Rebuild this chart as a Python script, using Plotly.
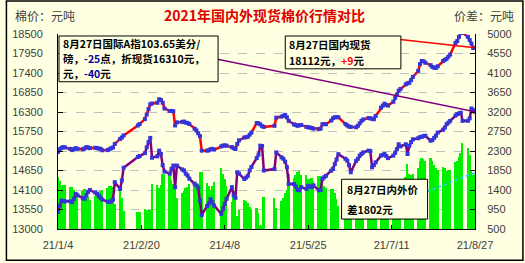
import pandas as pd
import plotly.graph_objects as go

# ---------------- data ----------------
holidays = ["2021-02-11", "2021-02-12", "2021-02-15", "2021-02-16", "2021-02-17",
            "2021-04-05", "2021-05-03", "2021-05-04", "2021-05-05", "2021-06-14"]
dates = [d for d in pd.bdate_range("2021-01-04", "2021-08-27")
         if d.strftime("%Y-%m-%d") not in holidays]

# domestic spot cotton price (yuan/t), left axis
domestic = [
    15170, 15250, 15290, 15310, 15300,
    15260, 15225, 15250, 15280, 15260,
    15250, 15270, 15310, 15300, 15280,
    15290, 15280, 15270, 15260, 15220,
    15225, 15250, 15280, 15300, 15400,
    15540, 15580, 15640,
    15920, 15960,
    16100, 16230, 16380, 16520, 16540,
    16560, 16660, 16640, 16560, 16400,
    16330, 16330, 16320, 15920, 16010,
    16020, 16030, 16000, 15990, 15960,
    15830, 15780, 15700, 15620, 15210,
    15210, 15220, 15250, 15260, 15240,
    15330, 15350, 15360, 15350,
    15310, 15280, 15255, 15400, 15500,
    15580, 15590, 15600, 15660, 15720,
    15990, 15980, 15950, 15900, 15880,
    15910, 16140,
    16170, 16190, 16220, 16150, 16050,
    15950, 15935, 15910, 15925, 15935,
    15880, 15870, 15860, 15850, 15830,
    15820, 15830, 15955, 15960, 15955,
    16060, 16125, 16150, 16160, 16150,
    15960, 15920, 15890, 15880,
    15870, 15910, 15980, 16050, 16090,
    16130, 16120, 16110, 16095, 16190,
    16420, 16480, 16535, 16500, 16480,
    16590, 16700, 16790, 16900, 16950,
    17080, 17110, 17125, 17200, 17290,
    17460, 17650, 17740, 17730, 17690,
    17620, 17570, 17550, 17545, 17590,
    17740, 17770, 17800, 17860, 17920,
    18250, 18300, 18420, 18530, 18530,
    18420, 18330, 18230, 18103, 18112,
]

# international A index converted to spot price (yuan/t), left axis
international = [
    13480, 13650, 13800, 13790, 13780,
    13780, 13760, 13850, 13990, 13950,
    13870, 13850, 13950, 14050, 14100,
    14030, 13990, 13930, 13880, 13830,
    13770, 13760, 13780, 13830, 14320,
    14130, 14370, 14730,
    15030, 15060,
    15140, 15300, 15450, 15570, 15010,
    15050, 15210, 15120, 14800, 14620,
    14560, 14700, 14790, 14180, 14790,
    14680, 14650, 14560, 14510, 14420,
    14280, 14230, 14170, 13800, 13390,
    13650, 13720, 13840, 13760, 13660,
    13430, 13570, 13710, 13850,
    14180, 13950, 13880, 14600, 14560,
    14410, 14450, 14500, 14650, 14750,
    15000, 15100, 15350, 15340, 14650,
    14690, 15160,
    15020, 14980, 14900, 14740, 14270,
    14270, 14200, 14100, 14090, 14180,
    14130, 14220, 14200, 14180, 14230,
    14090, 14100, 14410, 14460, 14500,
    14645, 14700, 14830, 14960, 15110,
    14980, 14930, 14800, 14600,
    14920, 14980, 15070, 15120, 15160,
    15210, 15200, 14740, 14800, 14880,
    15070, 15090, 15115, 15060, 15000,
    15070, 15150, 15250, 15390, 15330,
    15390, 15115, 15350, 15450, 15530,
    15560, 15590, 15600, 15620, 15630,
    15490, 15510, 15570, 15630, 15720,
    15800, 15860, 15955, 16000, 16050,
    16200, 16240, 16260, 16280, 16050,
    16050, 16120, 16400, 16350, 16310,
]

# domestic - international spread (yuan/t), right axis
spread = [
    1690, 1600, 1490, 1520, 1520,
    1480, 1465, 1400, 1290, 1310,
    1380, 1420, 1360, 1250, 1180,
    1260, 1290, 1340, 1380, 1390,
    1455, 1490, 1500, 1470, 1080,
    1410, 1210, 910,
    890, 900,
    960, 930, 930, 950, 1530,
    1510, 1450, 1520, 1760, 1780,
    1770, 1630, 1530, 1740, 1220,
    1340, 1380, 1440, 1480, 1540,
    1550, 1550, 1530, 1820, 1820,
    1560, 1500, 1410, 1500, 1580,
    1900, 1780, 1650, 1500,
    1130, 1330, 1375, 800, 940,
    1170, 1140, 1100, 1010, 970,
    990, 880, 600, 560, 1230,
    1220, 980,
    1150, 1210, 1320, 1410, 1780,
    1680, 1735, 1810, 1835, 1755,
    1750, 1650, 1660, 1670, 1600,
    1730, 1730, 1545, 1500, 1455,
    1415, 1425, 1320, 1200, 1040,
    980, 990, 1090, 1280,
    950, 930, 910, 930, 930,
    920, 920, 1370, 1295, 1310,
    1350, 1390, 1420, 1440, 1480,
    1520, 1550, 1540, 1510, 1620,
    1690, 1995, 1775, 1750, 1760,
    1900, 2060, 2140, 2110, 2060,
    2130, 2060, 1980, 1915, 1870,
    1940, 1910, 1845, 1860, 1870,
    2050, 2060, 2160, 2250, 2480,
    2370, 2210, 1830, 1753, 1802,
]

x_tick_dates = ["2021-01-04", "2021-02-20", "2021-04-08", "2021-05-25", "2021-07-11", "2021-08-27"]
x_tick_labels = ["21/1/4", "21/2/20", "21/4/8", "21/5/25", "21/7/11", "21/8/27"]
left_ticks = [13000, 13550, 14100, 14650, 15200, 15750, 16300, 16850, 17400, 17950, 18500]
right_ticks = [500, 950, 1400, 1850, 2300, 2750, 3200, 3650, 4100, 4550, 5000]

box1_lines = ["<b>8月27日国际A指103.65美分/</b>",
              "<b>磅，<span style='color:#0000A0'>-25</span>点，折现货16310元，</b>",
              "<b>元，<span style='color:#0000A0'>-40</span>元</b>"]
box2_lines = ["<b>8月27日国内现货</b>",
              "<b>18112元，<span style='color:#FF0000'>+9</span>元</b>"]
box3_lines = ["<b>8月27日内外价</b>", "<b>差1802元</b>"]

assert len(dates) == len(domestic) == len(international) == len(spread)

# ---------------- figure ----------------
BG = "#FFFFE1"
W, H = 525, 263
ML, MR, MT, MB = 53, 50, 34, 33
PW, PH = W - ML - MR, H - MT - MB

def px(xp):
    return (xp - ML) / PW

def py(yp):
    return (H - MB - yp) / PH

fig = go.Figure()
fig.add_trace(go.Bar(x=dates, y=spread, yaxis="y", marker=dict(color="#00F000", line=dict(width=0)),
                     width=86400000 * 1.0, hoverinfo="skip"))
marker = dict(symbol="square", size=4, color="#3434D8", line=dict(width=0))
fig.add_trace(go.Scatter(x=dates, y=international, yaxis="y2", mode="lines+markers",
                         line=dict(color="#800080", width=2.5), marker=marker))
fig.add_trace(go.Scatter(x=dates, y=domestic, yaxis="y2", mode="lines+markers",
                         line=dict(color="#FF0000", width=2.5), marker=marker))

tickfont = dict(family="Liberation Sans", size=11, color="#404040")
fig.update_layout(
    width=W, height=H, margin=dict(l=ML, r=MR, t=MT, b=MB),
    paper_bgcolor=BG, plot_bgcolor=BG, showlegend=False, bargap=0,
    xaxis=dict(type="date", range=["2021-01-04", "2021-08-27"], tickvals=x_tick_dates,
               ticktext=x_tick_labels, showgrid=False, showline=True, linecolor="black",
               linewidth=1, ticks="inside", ticklen=4, tickcolor="black", tickfont=tickfont,
               zeroline=False, ticklabelstandoff=6),
    yaxis=dict(side="right", range=[500, 5000], tickvals=right_ticks, tickformat="d",
               showline=True, linecolor="black", linewidth=1, ticks="inside", ticklen=5,
               tickcolor="black", showgrid=True, gridcolor="#C0C0C0", griddash="dash",
               gridwidth=1, tickfont=tickfont, zeroline=False, ticklabelstandoff=9),
    yaxis2=dict(side="left", overlaying="y", range=[13000, 18500], tickvals=left_ticks,
                tickformat="d", showline=True, linecolor="black", linewidth=1,
                ticks="inside", ticklen=5, tickcolor="black", showgrid=False,
                tickfont=tickfont, zeroline=False, ticklabelstandoff=12),
)

# leader lines from boxes to last points
last = dates[-1]
fig.add_shape(type="line", xref="x", yref="y2", xsizemode="pixel", ysizemode="pixel",
              xanchor=last, yanchor=domestic[-1], x0=-77, x1=0, y0=8.5, y1=0,
              line=dict(color="#FF0000", width=1.5))
fig.add_shape(type="line", xref="x", yref="y2", xsizemode="pixel", ysizemode="pixel",
              xanchor=last, yanchor=international[-1], x0=-260, x1=0, y0=53, y1=0,
              line=dict(color="#800080", width=1.5))
fig.add_shape(type="line", xref="x", yref="y", xsizemode="pixel", ysizemode="pixel",
              xanchor=last, yanchor=spread[-1], x0=-48, x1=0, y0=-19, y1=0,
              line=dict(color="#30C8F0", width=2, dash="dot"))

# boxes
for (x0, y0, x1, y1) in [(54, 36, 215, 82), (283, 36, 400, 69), (340, 180, 427, 220)]:
    fig.add_shape(type="rect", xref="paper", yref="paper", x0=px(x0), x1=px(x1),
                  y0=py(y1), y1=py(y0), fillcolor=BG, line=dict(color="black", width=1),
                  layer="above")

# outer border
fig.add_shape(type="rect", xref="paper", yref="paper",
              x0=(-ML + 0.8) / PW, x1=1 + (MR - 1.5) / PW,
              y0=-(MB - 1.5) / PH, y1=1 + (MT - 0.8) / PH,
              line=dict(color="black", width=1.5), layer="above")

cjk = "Noto Sans CJK SC"
fig.add_annotation(text="棉价：元吨", xref="paper", yref="paper", x=px(7), y=py(15),
                   xanchor="left", yanchor="middle", showarrow=False,
                   font=dict(family=cjk, size=12, color="#404040"))
fig.add_annotation(text="价差：元吨", xref="paper", yref="paper", x=px(516), y=py(15),
                   xanchor="right", yanchor="middle", showarrow=False,
                   font=dict(family=cjk, size=12, color="#404040"))
fig.add_annotation(text="<b>2021年国内外现货棉价行情对比</b>", xref="paper", yref="paper",
                   x=px(262), y=py(15), xanchor="center", yanchor="middle", showarrow=False,
                   font=dict(family=cjk, size=14, color="#E00000"))

boxfont = dict(family=cjk, size=10.5, color="black")
for lines, x0, ys in [(box1_lines, 57, [44, 59, 74]), (box2_lines, 286, [44.5, 60.5]),
                      (box3_lines, 344, [190, 210])]:
    for t, yc in zip(lines, ys):
        fig.add_annotation(text=t, xref="paper", yref="paper", x=px(x0), y=py(yc),
                           xanchor="left", yanchor="middle", showarrow=False,
                           align="left", font=boxfont, borderpad=0)

fig.write_html("out.html")
